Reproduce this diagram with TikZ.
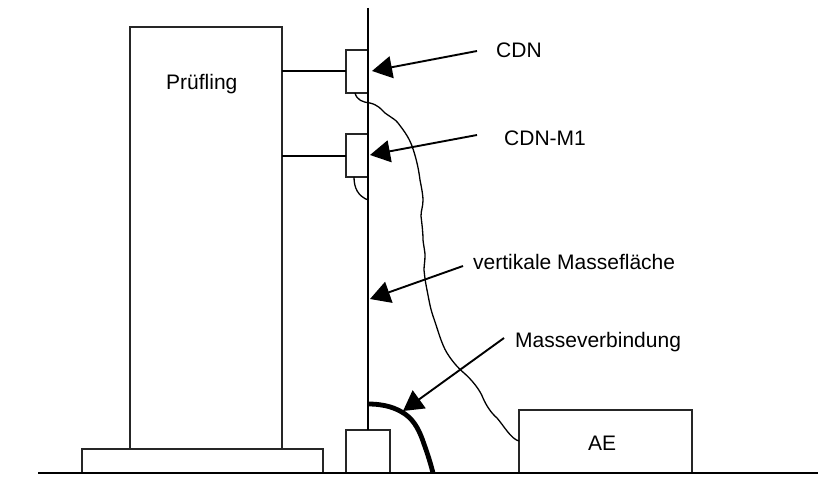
\documentclass[tikz,border=0pt]{standalone}
\usepackage{fontspec}
\setmainfont{Liberation Sans}
\usetikzlibrary{arrows.meta}
\tikzset{
  x=1pt,y=-1pt,
  boxnode/.style={draw=black!85,line width=1.9pt,fill=white,inner sep=0pt,outer sep=0pt,anchor=north west},
  lbl/.style={font=\fontsize{21}{24}\selectfont,inner sep=0pt,anchor=base west,text=black},
  wire/.style={draw=black,line width=2pt},
  thinw/.style={draw=black,line width=1.3pt,line join=round},
  pointer/.style={draw=black,line width=1.9pt,-{Triangle[length=20pt,width=22pt]}},
}
\begin{document}
\begin{tikzpicture}
\useasboundingbox (0,0) rectangle (818,476);
\coordinate (wtop) at (368,8);
\coordinate (wbot) at (368,430);
\coordinate (gl) at (38,473);
\coordinate (gr) at (818,473);
\node[boxnode,minimum width=152pt,minimum height=422pt] (pruef) at (130,27) {};
\node[boxnode,minimum width=241pt,minimum height=24pt] (base) at (82,449) {};
\node[boxnode,minimum width=22pt,minimum height=43pt] (cdn) at (346,50) {};
\node[boxnode,minimum width=22pt,minimum height=43pt] (cdnm) at (346,134) {};
\node[boxnode,minimum width=44pt,minimum height=43pt] (foot) at (346,430) {};
\node[boxnode,minimum width=173pt,minimum height=63pt] (ae) at (519,410) {};
\draw[wire] (wtop) -- (wbot);
\draw[wire] (gl) -- (gr);
\draw[wire] (cdn.west) -- (cdn.west -| pruef.east);
\draw[wire] (cdnm.west) -- (cdnm.west -| pruef.east);
\coordinate (c1) at (355,93);
\coordinate (c2) at (354,177);
\coordinate (c3) at (368,200);
\coordinate (c4) at (368,404);
\coordinate (c5) at (433,473);
\coordinate (c6) at (519,441);
\draw[thinw] (c1) .. controls (357,100) and (362,102) .. (370,103)
  .. controls (378,105) and (381,109) .. (385,113)
  .. controls (392,118) and (396,120) .. (398,123)
  .. controls (405,132) and (409,138) .. (412,146)
  .. controls (417,160) and (419,172) .. (420,180)
  .. controls (422,190) and (423,196) .. (423,200)
  .. controls (423,207) and (421,210) .. (421,216)
  .. controls (422,225) and (423,232) .. (423,240)
  .. controls (424,248) and (425,252) .. (425,255)
  .. controls (425,262) and (424,265) .. (424,270)
  .. controls (425,280) and (426,285) .. (427,290)
  .. controls (429,300) and (430,307) .. (433,316)
  .. controls (438,330) and (441,343) .. (447,353)
  .. controls (452,361) and (458,368) .. (464,373)
  .. controls (472,380) and (480,390) .. (483,398)
  .. controls (486,405) and (491,413) .. (497,418)
  .. controls (504,426) and (511,439) .. (c6);
\draw[thinw] (c2) .. controls (354,188) and (358,196) .. (c3);
\draw[line width=4.8pt] (c4) .. controls (385,404) and (396,408) .. (405,414)
  .. controls (415,421) and (420,432) .. (424,444)
  .. controls (428,455) and (431,465) .. (c5);
\node[lbl] (t1) at (166,90) {Prüfling};
\node[lbl] (t2) at (496,58) {CDN};
\node[lbl] (t3) at (504,145) {CDN-M1};
\node[lbl] (t4) at (473,269) {vertikale Massefläche};
\node[lbl] (t5) at (515,347) {Masseverbindung};
\node[lbl] (t6) at (588,450) {AE};
\coordinate (a1) at (477,51); \coordinate (b1) at (372,71);
\coordinate (a2) at (477,135); \coordinate (b2) at (370,155);
\coordinate (a3) at (463,266); \coordinate (b3) at (370,299);
\coordinate (a4) at (504,338); \coordinate (b4) at (403,411);
\draw[pointer] (a1) -- (b1);
\draw[pointer] (a2) -- (b2);
\draw[pointer] (a3) -- (b3);
\draw[pointer] (a4) -- (b4);
\end{tikzpicture}
\end{document}
